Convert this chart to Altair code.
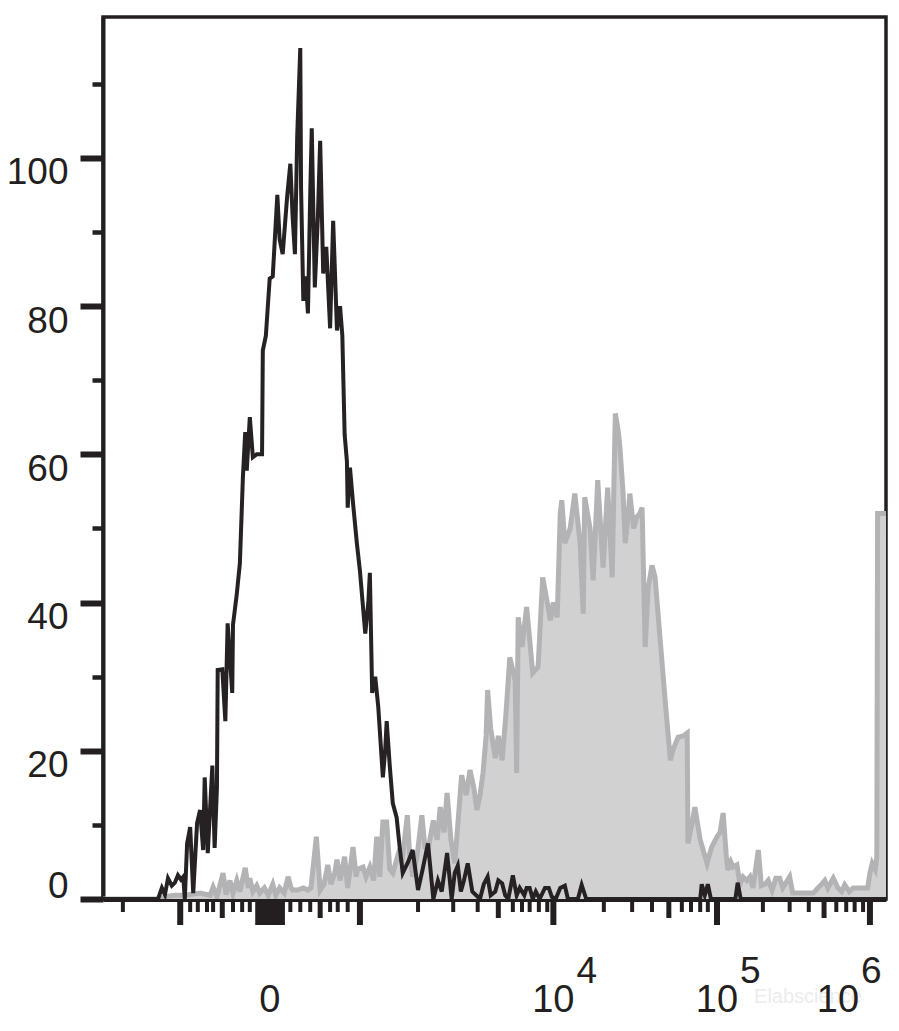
import altair as alt
import pandas as pd

# ---------------- data (x = display channel 0-1024, y = count) ----------------
iso_x = [0, 72, 77, 81, 85, 90, 94, 98, 102, 105, 107, 110, 114, 118, 123, 127, 131, 133, 137, 143,
         146, 149, 150, 156, 160, 163, 169, 170, 175, 179, 183, 186, 188, 192, 196, 201, 208, 209, 213, 218,
         222, 228, 231, 235, 241, 245, 248, 251, 254, 258, 259, 262, 265, 268, 271, 273, 277, 281, 284, 288,
         292, 297, 301, 306, 310, 313, 316, 319, 320, 323, 327, 332, 336, 343, 347, 349, 352, 356, 360, 366,
         369, 371, 375, 379, 384, 388, 392, 399, 405, 412, 418, 425, 432, 438, 443, 450, 456, 460, 464, 468,
         472, 477, 483, 488, 493, 498, 503, 507, 513, 517, 522, 526, 530, 536, 541, 545, 551, 554, 558, 562,
         566, 571, 578, 583, 587, 592, 598, 604, 608, 621, 626, 632, 781, 783, 787, 791, 795, 827, 830, 834, 1024]
iso_y = [0, 0, 1.5, 0.6, 2.8, 1.8, 2.2, 3.2, 2.6, 3, 0, 7.5, 9.7, 0.8, 10.2, 12, 6.6, 16.4, 6.2, 18,
         6.9, 15, 30.9, 31, 24, 37.2, 27.8, 37, 41.2, 45.3, 57, 63, 57.8, 65, 59.6, 60, 60, 74, 76, 83.7,
         84, 95, 89, 87, 95, 99.2, 92, 87, 103, 114.8, 96, 80.7, 84, 79, 95, 104, 82.5, 92, 102.3, 84.4,
         88, 77, 91.5, 76.7, 80, 76, 62.7, 59, 52.8, 58.2, 53.4, 48, 44.3, 35.8, 40, 44, 27.8, 30, 25.9, 16.4,
         20, 24, 18, 12.9, 11, 7, 3.5, 5, 6.6, 1.2, 4, 7.5, 0, 2.5, 1, 6.2, 0, 3.5, 4.5, 1,
         2.5, 4.8, 1, 0.5, 0, 2, 3, 0.5, 1, 2.5, 2.1, 0.5, 0, 3.2, 0.5, 1.5, 0.5, 1.5, 1.5, 0,
         1, 0, 1.5, 1.5, 0.3, 0, 1.5, 1.8, 0, 0, 1.9, 0, 0, 2, 0.5, 2, 0, 0, 2.2, 0, 0]

stain_x = [0, 75, 81, 94, 107, 127, 140, 144, 149, 157, 161, 166, 170, 175, 179, 186, 190, 192, 196, 201,
           205, 211, 216, 222, 226, 231, 237, 242, 246, 248, 255, 262, 268, 272, 279, 284, 289, 294, 298, 303,
           306, 310, 316, 320, 327, 331, 333, 340, 344, 349, 354, 358, 362, 366, 371, 375, 379, 386, 391, 398,
           401, 405, 411, 417, 421, 425, 432, 437, 441, 446, 450, 455, 460, 464, 469, 475, 480, 485, 489, 493,
           497, 501, 503, 507, 513, 517, 522, 527, 532, 539, 541, 543, 548, 554, 558, 562, 569, 575, 581, 585,
           589, 594, 598, 600, 604, 611, 617, 624, 628, 630, 637, 641, 647, 654, 660, 666, 668, 670, 674, 676,
           680, 683, 687, 689, 694, 698, 702, 705, 709, 713, 718, 722, 728, 735, 742, 745, 752, 759, 764, 765,
           770, 774, 781, 790, 796, 803, 807, 811, 815, 817, 821, 824, 829, 833, 837, 842, 846, 850, 857, 861,
           866, 870, 875, 880, 885, 889, 895, 898, 902, 929, 935, 940, 944, 948, 955, 961, 966, 970, 976, 981,
           1000, 1003, 1006, 1010, 1012, 1013, 1023, 1024]
stain_y = [0, 0, 0.3, 0.5, 0.5, 0.8, 0.5, 1.6, 0.3, 3.5, 0.6, 2.5, 0.8, 2.5, 1.0, 4.2, 1.5, 2.8, 1.0, 1.8,
           0.8, 1.5, 0.5, 2.0, 0.5, 1.5, 0.8, 3, 1.5, 1.2, 1.2, 1.5, 1.2, 1.5, 8.4, 1.2, 2, 4.6, 2, 3.5,
           5.3, 2.5, 5.7, 1.5, 7, 3, 4, 4.3, 3, 4.3, 2.5, 8.4, 3, 10.4, 10.4, 4, 3.5, 6, 5, 11.3,
           6, 3, 6, 11.3, 7, 6.6, 10.6, 8, 12.4, 9, 14.3, 8, 4.8, 10, 16.7, 14, 17.4, 15, 12, 14,
           17, 22, 28.2, 23, 19, 22, 18.7, 25, 32.6, 29.5, 17, 38, 34, 39.4, 35, 30.5, 31.3, 43.4, 40, 37.6,
           40, 38, 52, 53.8, 48, 50, 54.7, 48, 38.5, 54.2, 50, 43, 56.5, 44.7, 55.5, 43.4, 55, 65.5, 63, 61,
           55, 48, 52, 54.7, 50, 51.5, 52, 52.8, 34, 42, 45, 43.4, 35.8, 27, 18.7, 20, 21.8, 22, 22.4, 7.5,
           10, 12.4, 8, 4.8, 7, 8.4, 9, 11.6, 6, 3.9, 5, 4.3, 4.6, 2, 3, 2.5, 3, 1.5, 6.6, 1.8,
           2, 2.5, 1.2, 2.8, 2.8, 1.5, 2.5, 3, 0.8, 0.8, 1.5, 2, 2.5, 1.5, 2.8, 1.5, 1, 1.9, 1, 1.5,
           1.5, 3.5, 4.8, 4, 5.7, 52, 52, 52]

# axis ticks (display channels)
x_long_ticks = [101, 203, 208, 213, 218, 223, 229, 234, 336, 589, 803, 1003]
x_mid_ticks = [156, 284, 517, 740, 943]
x_short_ticks = [26, 114, 124, 136, 144, 170, 182, 192, 245, 258, 271, 297, 307, 320, 412, 458, 490,
                 536, 548, 558, 570, 581, 655, 692, 718, 757, 769, 781, 791, 863, 898, 923, 959,
                 972, 983, 994]
x_label_pos = [218, 589, 803, 1003]
x_label_base = ["0", "10", "10", "10"]
x_label_exp = ["", "4", "5", "6"]

y_ticks = list(range(0, 120, 5))
watermark = ["Elabscience"]
watermark_pos = [922]

# ---------------- chart ----------------
W, H = 783, 882
FONT = "Liberation Sans"
INK = "#231f20"

iso = pd.DataFrame({"ch": iso_x, "count": iso_y})
stain = pd.DataFrame({"ch": stain_x, "count": stain_y})
labels = pd.DataFrame({"ch": x_label_pos, "base": x_label_base, "exp": x_label_exp})
wm = pd.DataFrame({"ch": watermark_pos, "t": watermark})

xs = alt.Scale(domain=[0, 1024], nice=False, zero=False)
ys = alt.Scale(domain=[0, 119], nice=False, zero=False)

x_axis = alt.Axis(ticks=False, labels=False, title=None, grid=False,
                  domainColor=INK, domainWidth=5)
y_axis = alt.Axis(
    values=y_ticks, title=None, grid=False,
    domainColor=INK, domainWidth=4, tickColor=INK,
    tickSize={"condition": {"test": "datum.value % 20 == 0", "value": 23}, "value": 11},
    tickWidth={"condition": {"test": "datum.value % 20 == 0", "value": 6}, "value": 4.5},
    labelExpr="datum.value % 20 == 0 && datum.value <= 100 ? datum.label : ''",
    labelOffset={"condition": {"test": "datum.value == 0", "value": -13}, "value": 15},
    labelPadding=12, labelFont=FONT, labelFontSize=37, labelColor=INK,
    labelOverlap=False, labelFlush=False, labelBound=False,
)

area = alt.Chart(stain).mark_area(color="#d1d1d1", clip=True, interpolate="linear").encode(
    x=alt.X("ch:Q", scale=xs, axis=x_axis, title=None),
    y=alt.Y("count:Q", scale=ys, axis=y_axis, title=None),
)
outline = alt.Chart(stain).mark_line(color="#b3b3b6", strokeWidth=5, clip=True).encode(
    x=alt.X("ch:Q", scale=xs), y=alt.Y("count:Q", scale=ys)
)
black = alt.Chart(iso).mark_line(color="#262223", strokeWidth=4, clip=True).encode(
    x=alt.X("ch:Q", scale=xs), y=alt.Y("count:Q", scale=ys)
)


def tick_layer(values, length, width):
    df = pd.DataFrame({"ch": values})
    return alt.Chart(df).mark_rule(color=INK, strokeWidth=width).encode(
        x=alt.X("ch:Q", scale=xs), y=alt.value(H), y2=alt.value(H + length)
    )


ticks_long = tick_layer(x_long_ticks, 26, 6)
ticks_mid = tick_layer(x_mid_ticks, 19, 5)
ticks_short = tick_layer(x_short_ticks, 13, 4)

wm_text = alt.Chart(wm).mark_text(font=FONT, fontSize=20, color="#ececec", baseline="alphabetic").encode(
    x=alt.X("ch:Q", scale=xs), y=alt.value(H + 104), text="t:N"
)
main_lab = labels[labels.ch < 1000]
end_lab = labels[labels.ch >= 1000]
base_txt = alt.Chart(main_lab).mark_text(font=FONT, fontSize=38, color=INK, baseline="alphabetic",
                                         align="center").encode(
    x=alt.X("ch:Q", scale=xs), y=alt.value(H + 113), text="base:N")
exp_txt = alt.Chart(main_lab).mark_text(font=FONT, fontSize=37, color=INK, baseline="alphabetic",
                                        align="left", dx=23).encode(
    x=alt.X("ch:Q", scale=xs), y=alt.value(H + 84), text="exp:N")
base_end = alt.Chart(end_lab).mark_text(font=FONT, fontSize=38, color=INK, baseline="alphabetic",
                                        align="center", dx=-32).encode(
    x=alt.X("ch:Q", scale=xs), y=alt.value(H + 113), text="base:N")
exp_end = alt.Chart(end_lab).mark_text(font=FONT, fontSize=37, color=INK, baseline="alphabetic",
                                       align="left", dx=-9).encode(
    x=alt.X("ch:Q", scale=xs), y=alt.value(H + 84), text="exp:N")

chart = alt.layer(area, outline, black, ticks_long, ticks_mid, ticks_short,
                  wm_text, base_txt, exp_txt, base_end, exp_end).properties(
    width=W, height=H,
    background="white",
    padding={"left": 95, "top": 9, "right": 5, "bottom": 125},
    autosize=alt.AutoSizeParams(type="none"),
).configure_view(stroke=INK, strokeWidth=3.5, strokeOpacity=1)

chart.save("out.html", embed_options={"renderer": "svg", "actions": False})
